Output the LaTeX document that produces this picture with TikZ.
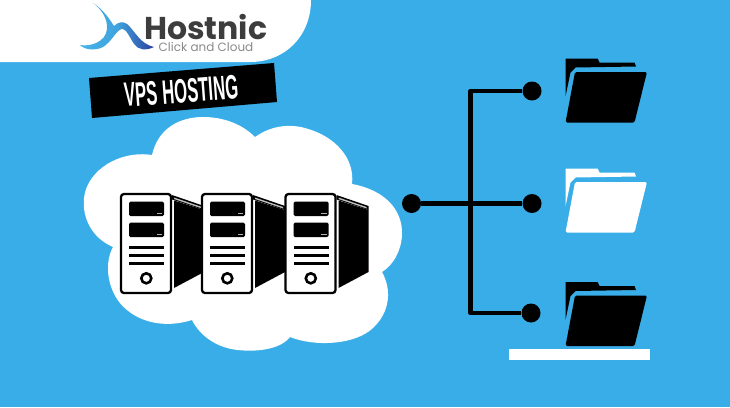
\documentclass[tikz,border=0pt]{standalone}
\usepackage{fontspec}
\setmainfont{Poppins}
\newfontfamily\bannerfont{Liberation Sans}
\definecolor{skyback}{HTML}{39ADE8}
\definecolor{logotext}{HTML}{3D3D3D}
\definecolor{logolight}{HTML}{8A8A8A}
\definecolor{swooshlight}{HTML}{45B4E8}
\definecolor{swooshdark}{HTML}{2A3F9E}
\tikzset{
  hub/.style={circle,fill=black,draw=none,minimum size=19pt,inner sep=0pt},
  wire/.style={draw=black,line width=4.6pt,line join=round},
  % one server tower with its dark side panel; the origin is the front face's top left corner
  towerpic/.pic={
    \fill[black] (53,6.5) -- (83,16) -- (83,78) -- (53,94) -- cycle;
    \fill[black] (51,1) -- (83,12) -- (83,16) -- (51,5.5) -- cycle;
    \fill[white!75!black] (53,3.5) -- (81,13) -- (81,14.5) -- (53,5) -- cycle;
    \draw[fill=white,draw=black,line width=2.3pt,rounded corners=3pt] (0,0) rectangle (50,99);
    \fill[black,rounded corners=1.5pt] (8,7.5) rectangle (43,22);
    \fill[black,rounded corners=1.5pt] (8,28.5) rectangle (43,43);
    \fill[white!70!black] (35.5,18.5) rectangle (41,20);
    \fill[white!70!black] (35.5,39.5) rectangle (41,41);
    \fill[black] (8,52) rectangle (43,55);
    \fill[black] (8,60) rectangle (43,63);
    \fill[black] (8,68) rectangle (43,71);
    \draw[black,line width=2.6pt,fill=white] (25.3,84.3) circle (5pt);
  },
  % a folder; the colour is given by the key and the origin is the back tab's top left corner
  folderpic/.pic={
    \fill[pic actions]
      (0,0) -- (32,0) -- (34,4) -- (69,4) -- (70.5,8) -- (10,9) -- (5,14) -- (0,38) -- cycle;
    \fill[pic actions,rounded corners=1.5pt]
      (9.5,13.5) -- (81.5,13.5) -- (69,64) -- (0,64) -- cycle;
  },
}
\begin{document}
\begin{tikzpicture}[x=1pt,y=-1pt]
  \useasboundingbox (0,0) rectangle (730,407);
  \fill[skyback] (0,0) rectangle (730,407);

  % masthead panel
  \fill[white] (0,0) -- (311,0) .. controls (311,36) and (285,62) .. (250,62) -- (0,62) -- cycle;

  % logo mark
  \shade[left color=swooshlight,right color=swooshdark,middle color=swooshlight!85!swooshdark]
    (93,3) .. controls (104,10) and (110,20) .. (114,26)
    .. controls (118,22) and (123,21) .. (127,24)
    .. controls (135,31) and (140,44) .. (154,47)
    .. controls (146,51) and (138,50) .. (134,44)
    .. controls (130,38) and (127,30) .. (123,29)
    .. controls (117,28) and (112,42) .. (103,47)
    .. controls (95,51) and (85,50) .. (80,45)
    .. controls (90,47) and (106,42) .. (107,29)
    .. controls (108,18) and (100,8) .. (93,3) -- cycle;
  \node[anchor=base west,inner sep=0pt,text=logotext,font=\fontsize{31.5}{32}\selectfont\bfseries] (brand) at (144,39) {Hostnic};
  \node[anchor=base west,inner sep=0pt,text=logolight,font=\fontsize{12}{12}\selectfont] (tagline) at (158.5,51.5) {Click and Cloud};

  % banner
  \fill[black] (89,78) -- (274,63) -- (277,102) -- (92,118) -- cycle;
  \node[rotate=4.3,text=white,inner sep=0pt,xscale=.49,font=\bannerfont\fontsize{34}{34}\selectfont\bfseries] (banner) at (181.5,91) {VPS HOSTING};

  % cloud
  \fill[white]
    (152,155) .. controls (158,128) and (180,117) .. (203,117)
    .. controls (225,117) and (243,125) .. (255,137)
    .. controls (272,125) and (290,124) .. (305,128)
    .. controls (335,136) and (355,158) .. (352,184)
    .. controls (385,190) and (403,210) .. (402,235)
    .. controls (401,252) and (393,265) .. (382,272)
    .. controls (392,290) and (390,312) .. (373,328)
    .. controls (355,345) and (315,347) .. (290,337)
    .. controls (280,350) and (255,352) .. (238,350)
    .. controls (217,348) and (200,336) .. (192,320)
    .. controls (170,327) and (145,325) .. (127,310)
    .. controls (108,295) and (103,265) .. (113,247)
    .. controls (92,238) and (82,218) .. (84,198)
    .. controls (87,170) and (120,150) .. (152,155) -- cycle;

  % server row
  \pic at (121,194) {towerpic};
  \pic at (202,194) {towerpic};
  \pic at (285.5,194) {towerpic};

  % tree of connectors
  \node[hub] (root) at (411.5,203.5) {};
  \node[hub] (top) at (532,91) {};
  \node[hub] (mid) at (532,203.5) {};
  \node[hub] (low) at (531,313) {};
  \coordinate (trunktop) at (470.5,91);
  \coordinate (trunklow) at (470.5,313);
  \path[wire] (root) -- (mid);
  \path[wire] (top) -- (trunktop) -- (trunklow) -- (low);

  % folders and the shelf below the last one
  \pic[fill=black] at (565.5,58.5) {folderpic};
  \pic[fill=white] at (565.5,168.5) {folderpic};
  \pic[fill=black] at (565.5,282) {folderpic};
  \fill[white] (509,349) rectangle (650,359.5);
\end{tikzpicture}
\end{document}
